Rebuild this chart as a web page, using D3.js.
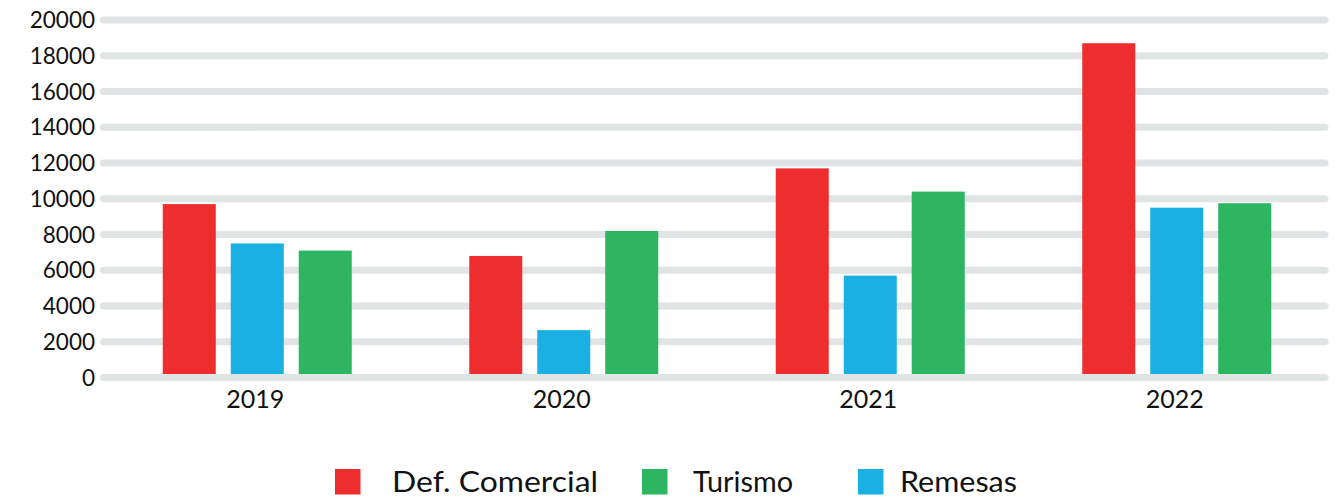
<!DOCTYPE html>
<html>
<head>
<meta charset="utf-8">
<script src="https://cdn.jsdelivr.net/npm/d3@7"></script>
<style>
  html, body { margin: 0; padding: 0; background: #ffffff; }
  svg { display: block; font-family: "Lato", "Open Sans", sans-serif; font-weight: 400; }
</style>
</head>
<body>
<svg id="chart" width="1339" height="498"></svg>
<script>
// Years on the x axis
const years = ["2019", "2020", "2021", "2022"];

// Series values (millones de USD)
const defComercial = [9700, 6800, 11700, 18700];
const remesas      = [7500, 2650, 5700, 9500];
const turismo      = [7100, 8200, 10400, 9750];

// Y axis ticks
const yTicks = [0, 2000, 4000, 6000, 8000, 10000, 12000, 14000, 16000, 18000, 20000];

// Series in bar order within each year, and legend order
const seriesBars = [
  { key: "Def. Comercial", values: defComercial, color: "#ee2e2e" },
  { key: "Remesas",        values: remesas,      color: "#1bb0e4" },
  { key: "Turismo",        values: turismo,      color: "#2db561" }
];
const legendOrder = ["Def. Comercial", "Turismo", "Remesas"];

const svg = d3.select("#chart");

const y = d3.scaleLinear().domain([0, 20000]).range([377.5, 20]);

const x0 = d3.scaleBand().domain(years).range([104, 1330]);
const groupWidth = 189;
const x1 = d3.scaleBand()
  .domain(seriesBars.map(s => s.key))
  .range([0, groupWidth])
  .paddingInner(0.22)
  .paddingOuter(0);

const gridColor = "#e0e4e4";

// Horizontal gridlines (thick, rounded)
const grid = svg.append("g");
grid.selectAll("line")
  .data(yTicks.filter(t => t !== 0))
  .join("line")
  .attr("x1", 103.5).attr("x2", 1325)
  .attr("y1", d => y(d)).attr("y2", d => y(d))
  .attr("stroke", gridColor)
  .attr("stroke-width", 7)
  .attr("stroke-linecap", "round");

// Y tick labels
svg.append("g")
  .selectAll("text")
  .data(yTicks)
  .join("text")
  .attr("x", 95)
  .attr("y", d => y(d))
  .attr("dy", "0.36em")
  .attr("text-anchor", "end")
  .attr("font-size", 22.5)
  .attr("fill", "#111111")
  .text(d => d);

// Bars
const groups = svg.append("g")
  .selectAll("g")
  .data(years)
  .join("g")
  .attr("transform", d => `translate(${x0(d) + (x0.bandwidth() - groupWidth) / 2},0)`);

groups.selectAll("rect")
  .data((yr, i) => seriesBars.map(s => ({ key: s.key, value: s.values[i], color: s.color })))
  .join("rect")
  .attr("x", d => x1(d.key))
  .attr("width", x1.bandwidth())
  .attr("y", d => y(d.value))
  .attr("height", d => y(0) - y(d.value))
  .attr("fill", d => d.color);

// Baseline gridline drawn over the bar bottoms
svg.append("line")
  .attr("x1", 103.5).attr("x2", 1325)
  .attr("y1", y(0)).attr("y2", y(0))
  .attr("stroke", gridColor)
  .attr("stroke-width", 7)
  .attr("stroke-linecap", "round");

// X axis year labels
svg.append("g")
  .selectAll("text")
  .data(years)
  .join("text")
  .attr("x", d => x0(d) + x0.bandwidth() / 2 - 2)
  .attr("y", 408)
  .attr("text-anchor", "middle")
  .attr("font-size", 25)
  .attr("fill", "#111111")
  .text(d => d);

// Legend
const legendPos = {
  "Def. Comercial": { sx: 335, tx: 392, w: 206 },
  "Turismo":        { sx: 642, tx: 693, w: 100 },
  "Remesas":        { sx: 858, tx: 900, w: 117 }
};
const legend = svg.append("g")
  .selectAll("g")
  .data(legendOrder.map(k => seriesBars.find(s => s.key === k)))
  .join("g");

legend.append("rect")
  .attr("x", d => legendPos[d.key].sx)
  .attr("y", 469)
  .attr("width", 25.5)
  .attr("height", 25.5)
  .attr("fill", d => d.color);

legend.append("text")
  .attr("x", d => legendPos[d.key].tx)
  .attr("y", 492)
  .attr("font-size", 28)
  .attr("fill", "#111111")
  .attr("textLength", d => legendPos[d.key].w)
  .attr("lengthAdjust", "spacingAndGlyphs")
  .text(d => d.key);
</script>
</body>
</html>
